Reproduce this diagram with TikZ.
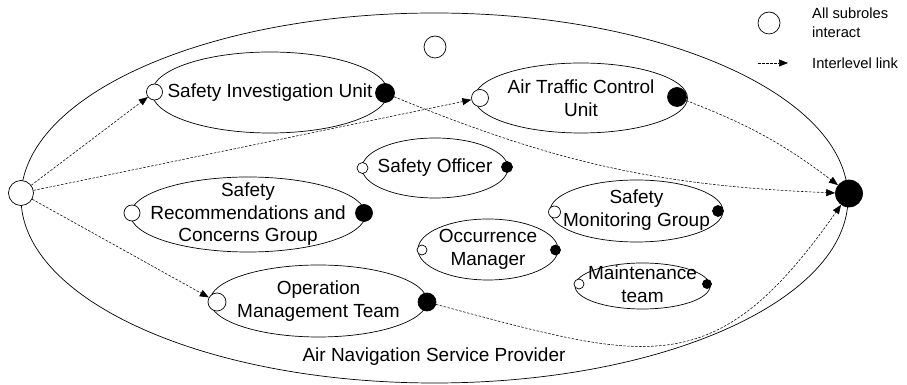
\documentclass[tikz,border=0pt]{standalone}
\usepackage{fontspec}
\setmainfont{Liberation Sans}
\usepackage{tikz}
\usetikzlibrary{arrows.meta, positioning, shapes.geometric}

\begin{document}
\begin{tikzpicture}[x=1pt, y=1pt,
                rolebox/.style={draw, ellipse, line width=0.7pt, inner sep=0pt},
                roletext/.style={align=center, inner sep=0pt, font=\fontsize{19}{22.5}\selectfont},
                inport/.style={draw, circle, fill=white, line width=0.7pt, inner sep=0pt, minimum size=#1},
                outport/.style={draw, circle, fill=black, line width=0.7pt, inner sep=0pt, minimum size=#1},
                link/.style={-{Triangle[length=9pt, width=7pt]}, dash pattern=on 2.5pt off 1.5pt, line width=0.55pt},
                legendtext/.style={align=left, anchor=west, inner sep=0pt, font=\fontsize{14.7}{19}\selectfont}]

                \useasboundingbox (0,0) rectangle (907,385);

                % Air Navigation Service Provider (outer)
                \node[rolebox, minimum width=827pt, minimum height=370pt] (ansp) at (434.5,187) {};
                \node[roletext] (ansptext) at (434,28) {Air Navigation Service Provider};
                \node[inport=22pt] (anspall) at (435,338) {};
                \node[inport=25pt] (start) at (21,192) {};
                \node[outport=27pt] (sink) at (849,191.5) {};

                % Subroles
                \node[rolebox, minimum width=236pt, minimum height=81pt] (siu) at (270,292.5) {};
                \node[roletext] (siutext) at (siu.center) {Safety Investigation Unit};
                \node[rolebox, minimum width=213pt, minimum height=70pt] (atc) at (581,287) {};
                \node[roletext] (atctext) at (atc.center) {Air Traffic Control\\Unit};
                \node[rolebox, minimum width=146pt, minimum height=60pt] (so) at (435,217) {};
                \node[roletext] (sotext) at (so.center) {Safety Officer};
                \node[rolebox, minimum width=235pt, minimum height=75pt] (srcg) at (248,170.5) {};
                \node[roletext] (srcgtext) at (srcg.center) {Safety\\Recommendations and\\Concerns Group};
                \node[rolebox, minimum width=173pt, minimum height=62pt] (smg) at (636.5,174) {};
                \node[roletext] (smgtext) at ([yshift=1pt]smg.center) {Safety\\Monitoring Group};
                \node[rolebox, minimum width=140pt, minimum height=61pt] (om) at (488,135.5) {};
                \node[roletext] (omtext) at (om.center) {Occurrence\\Manager};
                \node[rolebox, minimum width=135pt, minimum height=46pt] (mt) at (642.5,99) {};
                \node[roletext] (mttext) at ([yshift=2pt]mt.center) {Maintenance\\team};
                \node[rolebox, minimum width=217pt, minimum height=72pt] (omt) at (318.5,84) {};
                \node[roletext] (omttext) at (omt.center) {Operation\\Management Team};

                % Ports
                \node[inport=16pt] (siuin) at (154.5,293) {};
                \node[outport=19pt] (siuout) at (385,292) {};
                \node[inport=17pt] (atcin) at (480,287) {};
                \node[outport=19pt] (atcout) at (677,288) {};
                \node[inport=11pt] (soin) at (362.5,217) {};
                \node[outport=11pt] (soout) at (507,218) {};
                \node[inport=16pt] (srcgin) at (132,172) {};
                \node[outport=17pt] (srcgout) at (364,172) {};
                \node[inport=12pt] (smgin) at (554.5,173) {};
                \node[outport=11pt] (smgout) at (718,174) {};
                \node[inport=10pt] (omin) at (422,135) {};
                \node[outport=10pt] (omout) at (555.5,135) {};
                \node[inport=10pt] (mtin) at (579,101) {};
                \node[outport=9pt] (mtout) at (707,101) {};
                \node[inport=18pt] (omtin) at (217,83) {};
                \node[outport=18pt] (omtout) at (427,83) {};

                % Interlevel links
                \draw[link] (start) -- (siuin);
                \draw[link] (start) -- (atcin);
                \draw[link] (start) -- (omtin);
                \draw[link] (siuout) to[bend right=10] (sink);
                \draw[link] (atcout) to[bend left=8] (sink);
                \draw[link] (omtout) to[out=-15, in=-125, looseness=1.35] (sink);

                % Legend
                \node[inport=22pt] (legall) at (769,362) {};
                \node[legendtext] (legalltext) at (812,362.5) {All subroles\\interact};
                \coordinate (legfrom) at (758,322);
                \coordinate (legto) at (788,322);
                \draw[link] (legfrom) -- (legto);
                \node[legendtext] (leglinktext) at (812,322) {Interlevel link};
            \end{tikzpicture}
\end{document}
